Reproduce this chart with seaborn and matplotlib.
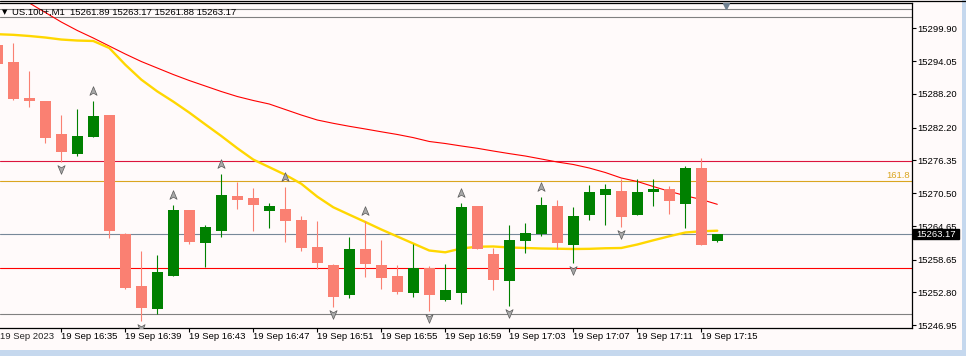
import numpy as np
import pandas as pd
import matplotlib
matplotlib.use('Agg')
import matplotlib.pyplot as plt
import matplotlib.transforms as mtransforms
from matplotlib.path import Path
from matplotlib.lines import Line2D
from matplotlib.patches import Rectangle
import seaborn as sns

# ---- data (US.100+, M1, 19 Sep 2023) ----
symbol = 'US.100+,M1'
times = pd.date_range('2023-09-19 16:31', periods=46, freq='min')

opens = [15296.92, 15293.89, 15287.47, 15286.94, 15281.05, 15277.54, 15280.52, 15284.44, 15263.28, 15253.95,
         15249.91, 15255.79, 15267.50, 15261.67, 15263.81, 15270.00, 15269.64, 15267.38, 15267.68, 15265.72,
         15260.91, 15257.70, 15252.35, 15260.55, 15257.70, 15255.74, 15252.76, 15257.16, 15251.51, 15252.76,
         15268.22, 15259.66, 15254.90, 15262.03, 15263.28, 15268.22, 15261.32, 15266.67, 15270.23, 15270.89,
         15266.67, 15270.77, 15271.25, 15268.63, 15274.99, 15261.89]
highs = [15297.60, 15297.28, 15292.29, 15287.00, 15284.44, 15285.51, 15286.94, 15284.50, 15263.40, 15260.25,
         15259.48, 15268.40, 15267.55, 15264.83, 15273.92, 15272.55, 15271.43, 15268.81, 15271.66, 15266.43,
         15265.54, 15257.90, 15262.69, 15265.54, 15262.16, 15257.70, 15261.44, 15257.50, 15257.88, 15268.75,
         15268.30, 15260.73, 15264.83, 15265.19, 15269.82, 15269.29, 15268.04, 15271.96, 15272.14, 15273.03,
         15273.03, 15273.03, 15271.84, 15275.40, 15276.83, 15263.17]
lows = [15293.20, 15287.20, 15285.92, 15279.50, 15276.12, 15277.13, 15280.45, 15262.57, 15253.42, 15247.71,
        15248.96, 15255.70, 15261.50, 15257.40, 15262.74, 15267.74, 15263.81, 15264.35, 15261.85, 15260.28,
        15256.93, 15250.16, 15251.87, 15255.61, 15253.47, 15252.58, 15252.05, 15249.55, 15251.33, 15250.80,
        15260.50, 15253.30, 15250.44, 15259.89, 15262.92, 15260.60, 15258.11, 15265.78, 15264.88, 15264.53,
        15266.60, 15268.27, 15266.84, 15264.35, 15261.30, 15261.88]
closes = [15293.59, 15287.29, 15286.99, 15280.40, 15277.85, 15280.70, 15284.26, 15263.81, 15253.54, 15250.09,
          15256.45, 15267.50, 15261.85, 15264.47, 15270.18, 15269.34, 15268.45, 15268.22, 15265.60, 15260.73,
          15258.11, 15252.05, 15260.55, 15257.93, 15255.43, 15252.94, 15257.16, 15252.35, 15253.24, 15268.04,
          15260.55, 15255.08, 15262.16, 15263.40, 15268.40, 15261.67, 15266.43, 15270.71, 15271.25, 15266.31,
          15270.71, 15271.25, 15269.16, 15274.99, 15261.32, 15263.17]

ma_fast = [15298.85, 15298.74, 15298.53, 15298.26, 15297.90, 15297.72, 15297.64, 15296.39, 15293.41, 15290.75,
           15288.65, 15286.83, 15284.87, 15282.77, 15280.70, 15278.52, 15276.49, 15275.14, 15273.78, 15272.18,
           15269.88, 15267.99, 15266.67, 15265.37, 15264.03, 15262.78, 15261.53, 15260.28, 15259.96, 15260.64,
           15260.96, 15261.00, 15260.82, 15260.73, 15260.64, 15260.60, 15260.55, 15260.58, 15260.68, 15260.73,
           15261.35, 15262.10, 15262.82, 15263.49, 15263.71, 15263.81]
ma_slow = [15307.98, 15306.19, 15304.41, 15302.72, 15301.02, 15299.51, 15298.17, 15296.74, 15295.32, 15293.98,
           15292.82, 15291.66, 15290.59, 15289.61, 15288.63, 15287.74, 15287.03, 15286.40, 15285.42, 15284.44,
           15283.55, 15282.96, 15282.43, 15281.95, 15281.45, 15280.97, 15280.41, 15279.72, 15279.36, 15278.92,
           15278.51, 15278.02, 15277.56, 15277.13, 15276.60, 15276.06, 15275.62, 15274.99, 15274.19, 15273.21,
           15272.59, 15271.69, 15270.84, 15270.05, 15269.38, 15268.52]

fractal_up = [6, 11, 14, 18, 23, 29, 34]
fractal_down = [4, 9, 21, 27, 32, 36, 39]

gray_levels = [15303.29, 15301.91, 15248.91]
crimson_level = 15276.24
fib_level = 15272.62
fib_label = '161.8'
red_level = 15257.11

ytick_vals = [15299.90, 15294.05, 15288.20, 15282.20, 15276.35,
              15270.50, 15264.65, 15258.65, 15252.80, 15246.95]

# ---- style ----
sns.set_style('white')
plt.rcParams['font.family'] = ['Liberation Sans', 'DejaVu Sans']
BG = '#fffafa'
BULL = '#008000'
BEAR = '#fa8072'

W, H = 966, 356
fig = plt.figure(figsize=(W / 100, H / 100), dpi=100, facecolor=BG)
ax = fig.add_axes([0, 1 - 328.3 / H, 911.5 / W, 325 / H])
ax.set_facecolor(BG)

o = np.array(opens); h = np.array(highs); l = np.array(lows); c = np.array(closes)
idx = np.arange(len(o))
cols = np.where(c >= o, BULL, BEAR)

# horizontal levels
for lv in gray_levels:
    ax.axhline(lv, color='#808080', lw=0.8, zorder=1)
ax.axhline(crimson_level, color='#dc143c', lw=0.8, zorder=1)
ax.axhline(fib_level, color='#daa520', lw=0.8, zorder=1)
ax.axhline(red_level, color='#ff0000', lw=0.8, zorder=1)
ax.axhline(c[-1], color='#778899', lw=0.8, zorder=1)

# moving averages
ma_df = pd.DataFrame({'i': idx, 'fast': ma_fast, 'slow': ma_slow})
sns.lineplot(data=ma_df, x='i', y='slow', color='#ff0000', lw=0.8, ax=ax, zorder=2)
sns.lineplot(data=ma_df, x='i', y='fast', color='#ffd700', lw=1.7, ax=ax, zorder=2)

# candles
ax.vlines(idx, l, h, colors=cols, lw=0.8, zorder=4)
body_lo = np.minimum(o, c)
body_h = np.maximum(np.abs(c - o), 0.18)
ax.bar(idx, body_h, bottom=body_lo, width=0.68, color=cols, lw=0, zorder=5)

# fractal arrows
up_m = Path([(0, 1), (0.75, -0.8), (0, -0.35), (-0.75, -0.8), (0, 1)],
            [Path.MOVETO, Path.LINETO, Path.LINETO, Path.LINETO, Path.CLOSEPOLY])
dn_m = Path([(0, -1), (0.75, 0.8), (0, 0.35), (-0.75, 0.8), (0, -1)],
            [Path.MOVETO, Path.LINETO, Path.LINETO, Path.LINETO, Path.CLOSEPOLY])
ax.scatter(fractal_up, h[fractal_up] + 1.78, marker=up_m, s=48, c='#a8a8a8',
           edgecolors='#5a5a5a', linewidths=0.5, zorder=6)
ax.scatter(fractal_down, l[fractal_down] - 1.25, marker=dn_m, s=48, c='#a8a8a8',
           edgecolors='#5a5a5a', linewidths=0.5, zorder=6)

# limits
ax.set_xlim(0.169, 57.14)
ax.set_ylim(15246.41, 15304.36)
ax.set_xlabel('')
ax.set_ylabel('')

# axes / ticks
for s in ['top', 'right', 'bottom']:
    ax.spines[s].set_color('black')
    ax.spines[s].set_linewidth(0.9)
ax.spines['left'].set_visible(False)

ax.yaxis.tick_right()
ax.set_yticks(ytick_vals)
ax.set_yticklabels([f'{v:.2f}' for v in ytick_vals])
ax.tick_params(axis='y', which='both', right=True, left=False, direction='out',
               length=2.6, width=0.8, pad=1.8, labelsize=6.8, colors='black')

xt = idx[4::4]
ax.set_xticks(xt)
ax.set_xticklabels([f'{times[i].day} {times[i]:%b %H:%M}' for i in xt], ha='left')
ax.tick_params(axis='x', which='both', bottom=True, direction='out',
               length=2.6, width=0.8, pad=0.3, labelsize=6.8, colors='black')
# first (date) label sits at the very left edge
first_tr = mtransforms.offset_copy(ax.get_xaxis_transform(), fig=fig, y=-2.9, units='points')
ax.text(0.175, 0, f'{times[0].day} {times[0]:%b %Y}', transform=first_tr, ha='left', va='top',
        fontsize=6.8, clip_on=False)

# fib label
btr = mtransforms.blended_transform_factory(ax.transAxes, ax.transData)
ax.text(909.5 / 911.5, fib_level + 0.15, fib_label, transform=btr, ha='right', va='bottom',
        color='#daa520', fontsize=6.8)

# current price tag
ax.add_patch(Rectangle((1.0013, c[-1] - 0.89), 46 / 911.5, 1.78, transform=btr,
                       facecolor='black', edgecolor='black', clip_on=False, zorder=10))
ax.text(1.0013 + 23 / 911.5, c[-1], f'{c[-1]:.2f}', transform=btr, ha='center', va='center',
        color='white', fontsize=6.8, clip_on=False, zorder=11)

# chart shift marker
ax.plot([726 / 911.5], [0.992], marker='v', ms=5, color='#708090', transform=ax.transAxes,
        clip_on=False, zorder=7)

# header
fig.text(2 / W, 1 - 12 / H, '\u25bc', fontsize=5, color='black', va='center',
         family=['DejaVu Sans'])
fig.text(12 / W, 1 - 12 / H,
         f'{symbol}  {o[-1]:.2f} {h[-1]:.2f} {l[-1]:.2f} {c[-1]:.2f}',
         fontsize=6.8, color='black', va='center')

# window frame bits
fig.add_artist(Line2D([0, 1], [1 - 0.5 / H] * 2, color='black', lw=0.9, transform=fig.transFigure))
fig.add_artist(Rectangle((0, 0), 1, 6 / H, transform=fig.transFigure, color='#c5d8ee', lw=0))
fig.add_artist(Rectangle((962 / W, 0), 4 / W, 1, transform=fig.transFigure, color='#c5d8ee', lw=0))

fig.savefig('out.png', dpi=100, facecolor=BG)
